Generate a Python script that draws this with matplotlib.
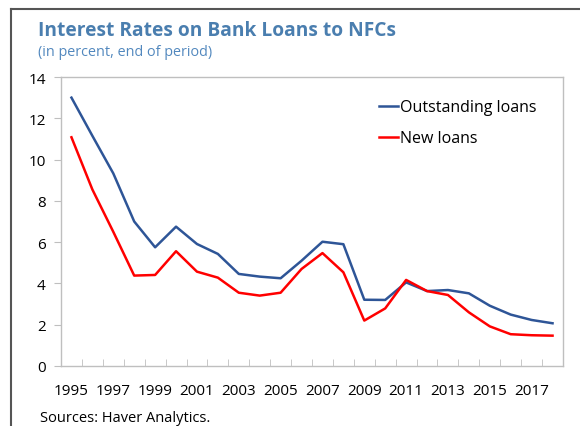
import matplotlib
matplotlib.use("Agg")
import matplotlib.pyplot as plt
from matplotlib.lines import Line2D

plt.rcParams['font.family'] = ['Open Sans', 'DejaVu Sans']

years = list(range(1995, 2019))
outstanding = [13.0, 11.15, 9.33, 7.0, 5.75, 6.75, 5.91, 5.43, 4.46, 4.33, 4.25, 5.1,
               6.02, 5.9, 3.21, 3.2, 4.05, 3.63, 3.68, 3.52, 2.92, 2.49, 2.23, 2.07]
new_loans = [11.08, 8.55, 6.5, 4.38, 4.41, 5.56, 4.57, 4.28, 3.55, 3.41, 3.55, 4.7,
             5.47, 4.54, 2.2, 2.79, 4.17, 3.63, 3.44, 2.6, 1.92, 1.54, 1.49, 1.47]
y_ticks = [0, 2, 4, 6, 8, 10, 12, 14]

W, H = 580, 427
fig = plt.figure(figsize=(W / 100, H / 100), dpi=100)
ax = fig.add_axes([61 / W, 1 - 367 / H, (563 - 61) / W, (367 - 78) / H])

x = list(range(len(years)))
ax.plot(x, outstanding, color='#2E5597', lw=1.8, label='Outstanding loans')
ax.plot(x, new_loans, color='#FF0000', lw=1.8, label='New loans')

ax.set_xlim(-0.5, len(years) - 0.5)
ax.set_ylim(0, 14)
ax.set_yticks(y_ticks)
ax.set_yticklabels([str(v) for v in y_ticks], fontsize=11)

ax.set_xticks(x[::2])
ax.set_xticklabels([str(y) for y in years[::2]], fontsize=11)
ax.set_xticks([i - 0.5 for i in range(len(years) + 1)], minor=True)
ax.tick_params(axis='x', which='major', length=0, pad=12)
ax.tick_params(axis='x', which='minor', length=5, color='#BFBFBF', direction='in')
ax.tick_params(axis='y', length=5, color='#BFBFBF', direction='out', pad=6)

for s in ax.spines.values():
    s.set_color('#BFBFBF')
    s.set_linewidth(1.0)

leg = ax.legend(loc='upper left', bbox_to_anchor=(0.62, 0.945), frameon=False,
                fontsize=11.5, handlelength=1.2, handletextpad=0.15,
                labelspacing=0.95, borderaxespad=0)

fig.text(38 / W, 1 - 36 / H, 'Interest Rates on Bank Loans to NFCs',
         fontsize=13.8, fontweight='bold', color='#4A7EAF', va='baseline')
fig.text(38 / W, 1 - 56 / H, '(in percent, end of period)',
         fontsize=10.4, color='#5288BE', va='baseline')
fig.text(40 / W, 1 - 422 / H, 'Sources: Haver Analytics.',
         fontsize=10.5, color='#000000', va='baseline')

# outer frame
fig.add_artist(Line2D([11 / W, 11 / W], [0, 1 - 10 / H], transform=fig.transFigure,
                      color='#555555', lw=1.5))
fig.add_artist(Line2D([11 / W, 1], [1 - 10 / H, 1 - 10 / H], transform=fig.transFigure,
                      color='#555555', lw=1.5))

fig.savefig('out.png', dpi=100)
